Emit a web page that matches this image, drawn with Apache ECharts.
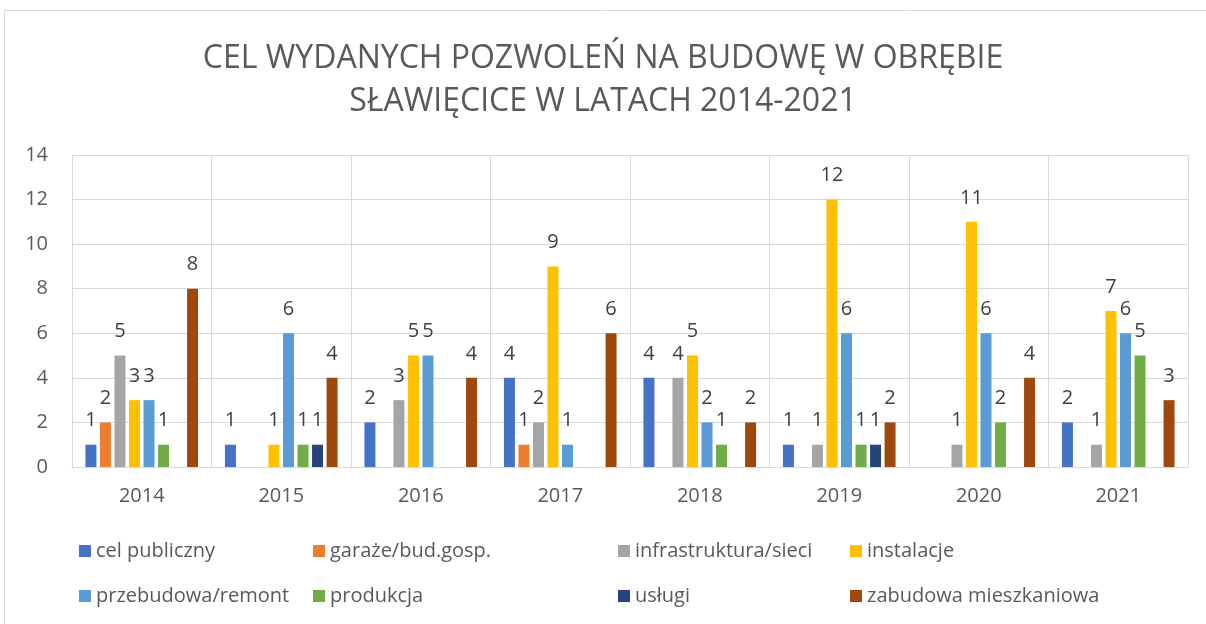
<!DOCTYPE html>
<html>
<head>
<meta charset="utf-8">
<script src="https://cdn.jsdelivr.net/npm/echarts@6/dist/echarts.min.js"></script>
<style>
  html, body { margin: 0; padding: 0; background: #fff; }
  #chart { width: 1206px; height: 624px; }
</style>
</head>
<body>
<div id="chart"></div>
<script>
  // lata
  var years = ['2014', '2015', '2016', '2017', '2018', '2019', '2020', '2021'];
  var yTicks = [0, 2, 4, 6, 8, 10, 12, 14];

  // wartosci, null = brak slupka
  var celPubliczny = [1, 1, 2, 4, 4, 1, null, 2];
  var garaze = [2, null, null, 1, null, null, null, null];
  var infrastruktura = [5, null, 3, 2, 4, 1, 1, 1];
  var instalacje = [3, 1, 5, 9, 5, 12, 11, 7];
  var przebudowa = [3, 6, 5, 1, 2, 6, 6, 6];
  var produkcja = [1, 1, null, null, 1, 1, 2, 5];
  var uslugi = [null, 1, null, null, null, 1, null, null];
  var zabudowa = [8, 4, 4, 6, 2, 2, 4, 3];

  var names = ['cel publiczny', 'garaże/bud.gosp.', 'infrastruktura/sieci', 'instalacje',
    'przebudowa/remont', 'produkcja', 'usługi', 'zabudowa mieszkaniowa'];
  var colors = ['#4472C4', '#ED7D31', '#A5A5A5', '#FFC000', '#5B9BD5', '#70AD47', '#264478', '#9E480E'];
  var values = [celPubliczny, garaze, infrastruktura, instalacje, przebudowa, produkcja, uslugi, zabudowa];

  var font = '"Open Sans", "Noto Sans", sans-serif';

  var series = names.map(function (n, i) {
    return {
      name: n,
      type: 'bar',
      data: values[i],
      barWidth: 11,
      barGap: '32%',
      itemStyle: { color: colors[i] },
      label: {
        show: true,
        position: 'top',
        distance: 14,
        color: '#404040',
        fontSize: 20,
        fontFamily: font
      }
    };
  });

  // legenda w 4 kolumnach po 2 wiersze
  var legendCols = [79, 313, 618, 850];
  var legends = legendCols.map(function (x, c) {
    return {
      orient: 'vertical',
      left: x,
      top: 541,
      padding: 0,
      itemWidth: 12,
      itemHeight: 12,
      itemGap: 25,
      icon: 'rect',
      selectedMode: false,
      data: [names[c], names[c + 4]],
      textStyle: { color: '#595959', fontSize: 20, fontFamily: font }
    };
  });

  var myChart = echarts.init(document.getElementById('chart'));
  var option = {
    animation: false,
    color: colors,
    title: {
      text: 'CEL WYDANYCH POZWOLEŃ NA BUDOWĘ W OBRĘBIE\nSŁAWIĘCICE W LATACH 2014-2021',
      left: 'center',
      top: 32,
      textStyle: {
        color: '#595959',
        fontSize: 32,
        fontWeight: 'normal',
        fontFamily: font,
        lineHeight: 43
      }
    },
    graphic: [{
      type: 'rect',
      shape: { x: 4.5, y: 10.5, width: 1300, height: 700 },
      style: { fill: 'none', stroke: '#d9d9d9', lineWidth: 1 },
      silent: true
    }],
    legend: legends,
    grid: { left: 72, right: 18, top: 155, bottom: 157 },
    xAxis: {
      type: 'category',
      data: years,
      axisTick: { show: false },
      axisLine: { lineStyle: { color: '#d9d9d9' } },
      splitLine: { show: true, lineStyle: { color: '#d9d9d9', width: 1 } },
      axisLabel: { color: '#595959', fontSize: 20, fontFamily: font, margin: 19 }
    },
    yAxis: {
      type: 'value',
      min: yTicks[0],
      max: yTicks[yTicks.length - 1],
      interval: 2,
      axisLine: { show: false },
      axisTick: { show: false },
      splitLine: { lineStyle: { color: '#d9d9d9', width: 1 } },
      axisLabel: { color: '#595959', fontSize: 20, fontFamily: font, margin: 24 }
    },
    series: series
  };
  myChart.setOption(option);
  window.addEventListener('resize', function () {
    myChart.resize();
  });
</script>
</body>
</html>
